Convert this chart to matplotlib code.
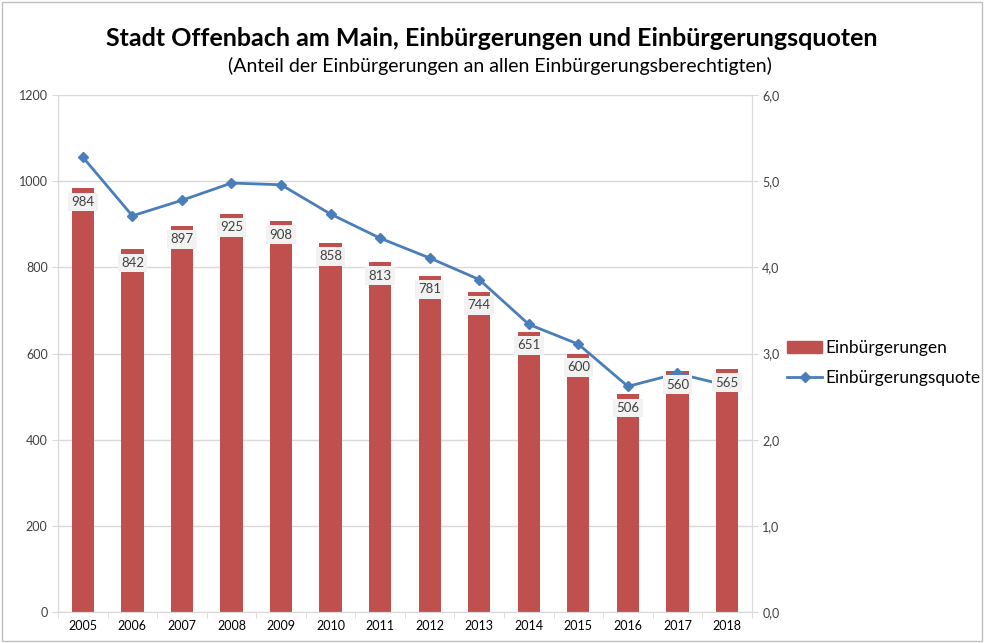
import matplotlib.pyplot as plt
import numpy as np
from matplotlib.ticker import FuncFormatter
from matplotlib.patches import Patch
from matplotlib.lines import Line2D

plt.rcParams['font.family'] = ['Lato', 'DejaVu Sans']

years = ['2005', '2006', '2007', '2008', '2009', '2010', '2011',
         '2012', '2013', '2014', '2015', '2016', '2017', '2018']
einbuergerungen = [984, 842, 897, 925, 908, 858, 813, 781, 744, 651, 600, 506, 560, 565]
quote = [5.28, 4.60, 4.78, 4.98, 4.96, 4.62, 4.34, 4.11, 3.86, 3.34, 3.11, 2.62, 2.77, 2.63]

bar_color = '#c0504d'
line_color = '#4a7ebb'
grid_color = '#d9d9d9'

fig = plt.figure(figsize=(9.84, 6.43), dpi=100)
ax = fig.add_axes([0.059, 0.048, 0.705, 0.804])
ax2 = ax.twinx()

x = np.arange(len(years))
ax.bar(x, einbuergerungen, width=0.45, color=bar_color, zorder=2)

ax.set_ylim(0, 1200)
ax.set_yticks(range(0, 1201, 200))
ax.set_xlim(-0.5, len(years) - 0.5)
ax.set_xticks(x)
ax.set_xticklabels(years)
ax.set_xticks(np.arange(-0.5, len(years), 1), minor=True)
ax.tick_params(axis='x', which='major', length=0, labelsize=9, pad=6)
ax.tick_params(axis='x', which='minor', length=4, color=grid_color)
ax.tick_params(axis='y', length=4, color=grid_color, labelsize=9, labelcolor='#404040')
ax.grid(axis='y', color=grid_color, linewidth=1, zorder=0)
ax.set_axisbelow(True)

ax2.plot(x, quote, color=line_color, linewidth=2, marker='D', markersize=5, zorder=3)
ax2.set_ylim(0, 6)
ax2.set_yticks(np.arange(0, 6.01, 1))
ax2.yaxis.set_major_formatter(FuncFormatter(lambda v, p: f'{v:.1f}'.replace('.', ',')))
ax2.tick_params(axis='y', length=4, color=grid_color, labelsize=9, labelcolor='#404040')

# data labels drawn above the line
for xi, v in zip(x, einbuergerungen):
    ax2.text(xi, v - 32, str(v), transform=ax.transData, ha='center', va='center',
             fontsize=9.5, color='#404040',
             bbox=dict(boxstyle='square,pad=0.25', fc='#f2f2f2', ec='none'), zorder=5)

for a in (ax, ax2):
    a.spines['top'].set_visible(False)
    for s in ('left', 'right', 'bottom'):
        a.spines[s].set_color(grid_color)
ax.set_zorder(ax2.get_zorder() - 1)
ax.patch.set_visible(False)

fig.text(0.5, 0.94, 'Stadt Offenbach am Main, Einbürgerungen und Einbürgerungsquoten',
         ha='center', va='center', fontsize=18, fontweight='bold')
fig.text(0.508, 0.897, '(Anteil der Einbürgerungen an allen Einbürgerungsberechtigten)',
         ha='center', va='center', fontsize=14)

handles = [Patch(color=bar_color), Line2D([], [], color=line_color, lw=2, marker='D', markersize=5)]
fig.legend(handles, ['Einbürgerungen', 'Einbürgerungsquote'], loc='center left',
           bbox_to_anchor=(0.8, 0.435), frameon=False, fontsize=12.5, handlelength=2.0,
           handletextpad=0.2, labelspacing=0.8, borderpad=0, borderaxespad=0)

fig.patches.append(plt.Rectangle((0.002, 0.003), 0.996, 0.994, transform=fig.transFigure,
                                 fill=False, ec='#bfbfbf', lw=1))
fig.savefig('out.png', dpi=100)
